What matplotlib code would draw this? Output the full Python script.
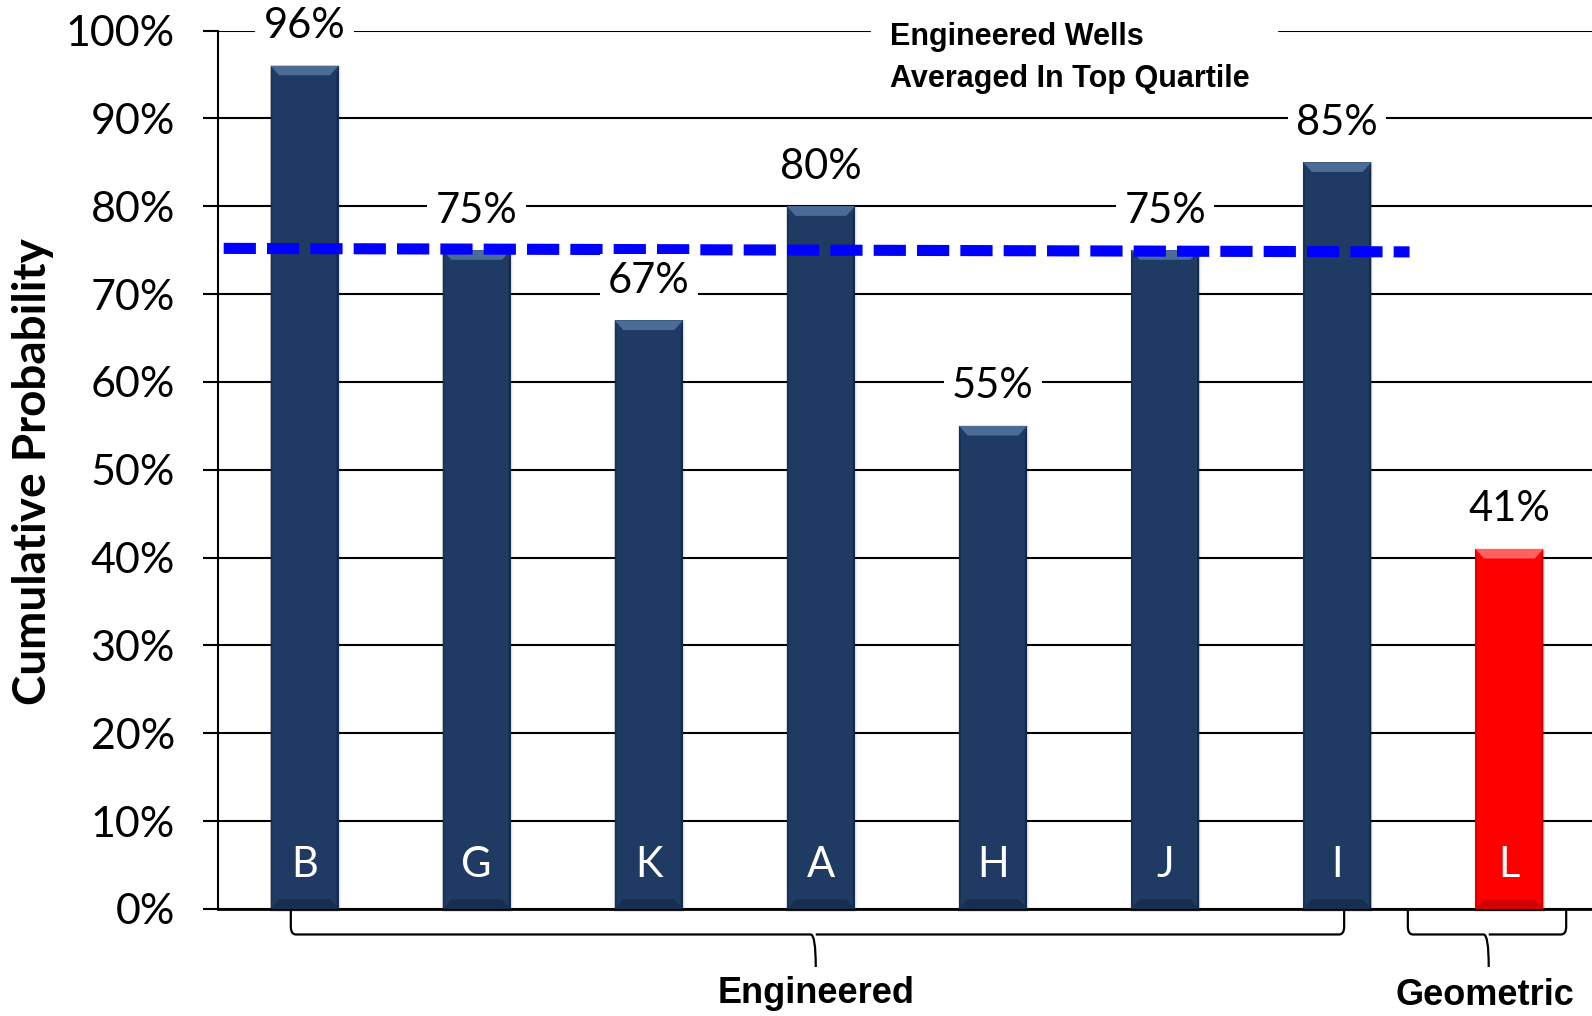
import numpy as np
import matplotlib.pyplot as plt
from matplotlib.patches import Polygon, Rectangle
from matplotlib.path import Path
from matplotlib.patches import PathPatch

# wells and their cumulative probability (%)
wells = ["B", "G", "K", "A", "H", "J", "I", "L"]
probability = [96, 75, 67, 80, 55, 75, 85, 41]
well_type = ["Engineered"] * 7 + ["Geometric"]
yticks = [0, 10, 20, 30, 40, 50, 60, 70, 80, 90, 100]

# top-quartile average line across the engineered wells
avg_x = [-0.47, 6.42]
avg_y = [75.2, 74.8]

colours = {"Engineered": "#1F3B63", "Geometric": "#FF0000"}
bevel = {"Engineered": "#4C6C98", "Geometric": "#FF6060"}
shade = {"Engineered": "#14294A", "Geometric": "#C00000"}

body_font = ["Lato", "DejaVu Sans"]
narrow_font = ["Liberation Sans Narrow", "Liberation Sans", "DejaVu Sans"]

fig = plt.figure(figsize=(15.92, 10.16), dpi=100)
ax = fig.add_axes([218 / 1592, 1 - 909 / 1016, 1 - 218 / 1592, (909 - 30.5) / 1016])

x = np.arange(len(wells))
w = 0.395
cols = [colours[t] for t in well_type]
bars = ax.bar(x, probability, width=w, color=cols, zorder=3)

# bevelled look: soft shadow, lighter top edge, darker sides and base
for b, t in zip(bars, well_type):
    x0, h, bw = b.get_x(), b.get_height(), b.get_width()
    for k, a in [(0.012, 0.05), (0.007, 0.07)]:
        ax.add_patch(Rectangle((x0 - k * 0.5, -0.3), bw + k * 1.5, h + 0.3, color="#000000",
                               alpha=a, zorder=2.5, clip_on=False, lw=0))
    dx, dy = 0.05, 1.1
    ax.add_patch(Polygon([(x0, h), (x0 + bw, h), (x0 + bw - dx, h - dy), (x0 + dx, h - dy)],
                         closed=True, color=bevel[t], zorder=3.2, lw=0))
    ax.add_patch(Polygon([(x0, 0), (x0 + bw, 0), (x0 + bw - dx, dy), (x0 + dx, dy)],
                         closed=True, color=shade[t], zorder=3.2, lw=0, alpha=0.7))
    ax.add_patch(Polygon([(x0 + bw, h), (x0 + bw, 0), (x0 + bw - 0.012, 0.3), (x0 + bw - 0.012, h - dy)],
                         closed=True, color=shade[t], zorder=3.1, lw=0))
    ax.add_patch(Polygon([(x0, h), (x0, 0), (x0 + 0.01, 0.3), (x0 + 0.01, h - dy)],
                         closed=True, color=shade[t], zorder=3.1, lw=0, alpha=0.6))

ax.plot(avg_x, avg_y, color="#0000FF", lw=8, dashes=(2.9, 1.0),
        solid_capstyle="butt", dash_capstyle="butt", zorder=4)

# value labels sit on the gridlines with a white box
for xi, v in zip(x, probability):
    ax.text(xi, v + 4.5, f"{v}%", ha="center", va="center", fontsize=30,
            family=body_font, zorder=5,
            bbox=dict(boxstyle="square,pad=0.2", fc="white", ec="none"))

for xi, name in zip(x, wells):
    ax.text(xi, 5.0, name, ha="center", va="center", fontsize=30,
            color="white", family=body_font, zorder=5)

ax.add_patch(Rectangle((3.29, 98.5), 2.36, 3.0, color="white", zorder=1.5, clip_on=False))
ax.text(3.40, 101.0, "Engineered Wells\nAveraged In Top Quartile", ha="left", va="top",
        fontsize=22, fontweight="bold", family=narrow_font, linespacing=1.55, zorder=5)


def brace(x_left, x_right, x_mid, y_top=0, y_bar=-2.9, y_tip=-6.6):
    r = 0.03
    ry = 0.9
    verts = [(x_left, y_top), (x_left, y_bar + ry), (x_left, y_bar), (x_left + r, y_bar),
             (x_mid - r, y_bar), (x_mid, y_bar), (x_mid, y_tip),
             (x_mid, y_bar), (x_mid + r, y_bar),
             (x_right - r, y_bar), (x_right, y_bar), (x_right, y_bar + ry), (x_right, y_top)]
    codes = [Path.MOVETO, Path.LINETO, Path.CURVE3, Path.CURVE3,
             Path.LINETO, Path.CURVE3, Path.CURVE3,
             Path.MOVETO, Path.LINETO,
             Path.LINETO, Path.CURVE3, Path.CURVE3, Path.LINETO]
    ax.add_patch(PathPatch(Path(verts, codes), fc="none", ec="black", lw=1.6,
                           clip_on=False, zorder=4))


brace(-0.08, 6.04, 2.97)
brace(6.41, 7.33, 6.88)
ax.text(2.97, -9.6, "Engineered", ha="center", va="center", fontsize=26,
        fontweight="bold", family=narrow_font)
ax.text(6.86, -9.9, "Geometric", ha="center", va="center", fontsize=26,
        fontweight="bold", family=narrow_font)

ax.set_xlim(-0.503, 7.48)
ax.set_ylim(0, 100)
ax.set_yticks(yticks)
ax.set_yticklabels([f"{t}%" for t in yticks], fontsize=31, family=body_font)
ax.set_xticks([])
ax.yaxis.grid(True, color="black", lw=1.5, zorder=0)
ax.set_axisbelow(True)
ax.tick_params(axis="y", length=11, width=1.5, pad=20)
for s in ["top", "right"]:
    ax.spines[s].set_visible(False)
ax.spines["left"].set_linewidth(1.5)
ax.spines["bottom"].set_linewidth(2)

fig.text(33 / 1592, 1 - 472 / 1016, "Cumulative Probability", rotation=90,
         ha="center", va="center", fontsize=33, fontweight="bold", family=body_font)

fig.savefig("out.png", dpi=100)
